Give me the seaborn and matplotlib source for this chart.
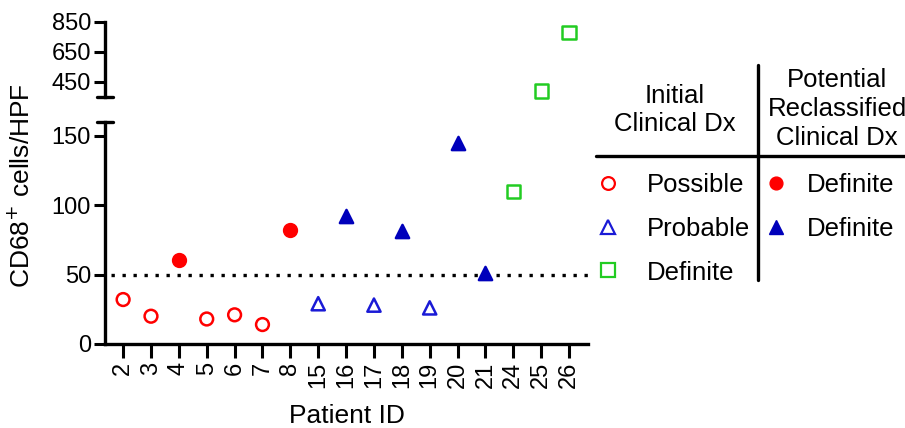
import matplotlib
matplotlib.use("Agg")
import matplotlib.pyplot as plt
from matplotlib.lines import Line2D
import seaborn as sns
import pandas as pd
import numpy as np

# ---- data ----
patient_ids = ["2", "3", "4", "5", "6", "7", "8", "15", "16", "17", "18", "19", "20", "21", "24", "25", "26"]
cd68_values = [32, 20, 60.5, 18, 21, 14, 82, 29, 92, 28, 81, 26, 144.5, 51, 110, 390, 782]
groups = ["Possible", "Possible", "Possible→Definite", "Possible", "Possible", "Possible",
          "Possible→Definite", "Probable", "Probable→Definite", "Probable", "Probable→Definite",
          "Probable", "Probable→Definite", "Probable→Definite", "Definite", "Definite", "Definite"]
threshold = 50
break_low, break_high = 160, 350

group_order = ["Possible", "Probable", "Definite", "Possible→Definite", "Probable→Definite"]
RED, BLUE, BLUE_OPEN, GREEN = "#FF0000", "#0000BB", "#1A1AD6", "#22CC22"
styles = {
    "Possible": dict(marker="o", fc="none", ec=RED, ms=9.2),
    "Probable": dict(marker="^", fc="none", ec=BLUE_OPEN, ms=9.5),
    "Definite": dict(marker="s", fc="none", ec=GREEN, ms=9.5),
    "Possible→Definite": dict(marker="o", fc=RED, ec=RED, ms=9.2),
    "Probable→Definite": dict(marker="^", fc=BLUE, ec=BLUE, ms=9.5),
}

df = pd.DataFrame({"pid": patient_ids, "value": cd68_values, "group": groups})
df["pos"] = np.arange(len(df))

sns.set_style("ticks")
plt.rcParams["font.family"] = ["Liberation Sans", "DejaVu Sans"]
for k in ("text.color", "axes.labelcolor", "xtick.color", "ytick.color", "axes.edgecolor"):
    plt.rcParams[k] = "black"

W, H = 905, 428
fig = plt.figure(figsize=(W / 100, H / 100), dpi=100)

def fx(px):
    return px / W

def fy(py):
    return 1 - py / H

ax_lo = fig.add_axes([fx(105), fy(344), fx(588) - fx(105), fy(121.7) - fy(344)])
ax_hi = fig.add_axes([fx(105), fy(97), fx(588) - fx(105), fy(22) - fy(97)])

for ax, sel in ((ax_lo, df["value"] <= break_low), (ax_hi, df["value"] >= break_high)):
    for g in group_order:
        sub = df[sel & (df["group"] == g)]
        if sub.empty:
            continue
        st = styles[g]
        sns.scatterplot(data=sub, x="pos", y="value", ax=ax, marker=st["marker"],
                        s=st["ms"] ** 2, facecolor=st["fc"], edgecolor=st["ec"],
                        linewidth=1.8, legend=False, clip_on=False, zorder=3)
    ax.set_xlim(-0.65, len(patient_ids) - 1 + 0.68)
    ax.set_xlabel("")
    ax.set_ylabel("")
    for side in ("top", "right"):
        ax.spines[side].set_visible(False)
    ax.spines["left"].set_linewidth(2.4)
    ax.spines["bottom"].set_linewidth(2.4)
    ax.tick_params(axis="both", width=2.2, length=8, labelsize=17, pad=2)

ax_lo.set_ylim(0, break_low)
ax_lo.set_yticks([0, 50, 100, 150])
ax_lo.set_xticks(df["pos"])
ax_lo.set_xticklabels(patient_ids, rotation=90)
ax_lo.tick_params(axis="x", length=10, pad=3)
ax_lo.set_xlabel("Patient ID", fontsize=19, labelpad=11)
ax_lo.axhline(threshold, xmin=0.012, xmax=1, color="black", lw=2.4,
              ls=(0, (1, 2.3)), zorder=2)

ax_hi.set_ylim(break_high, 850)
ax_hi.set_yticks([450, 650, 850])
ax_hi.spines["bottom"].set_visible(False)
ax_hi.set_xticks([])

# break caps
cap = 8 / (588 - 105)
ax_hi.plot([-cap, cap], [0, 0], transform=ax_hi.transAxes, color="black", lw=2.4, clip_on=False)
ax_lo.plot([-cap, cap], [1, 1], transform=ax_lo.transAxes, color="black", lw=2.4, clip_on=False)

fig.text(fx(22), fy(186), "CD68$^{+}$ cells/HPF", rotation=90, ha="center", va="center", fontsize=19)

# ---- legend table ----
fig.add_artist(Line2D([fx(758), fx(758)], [fy(65), fy(280)], color="black", lw=2.4))
fig.add_artist(Line2D([fx(596), fx(905)], [fy(156), fy(156)], color="black", lw=2.4))
fig.text(fx(675), fy(110), "Initial\nClinical Dx", ha="center", va="center", fontsize=18.5, linespacing=1.25)
fig.text(fx(837), fy(109), "Potential\nReclassified\nClinical Dx", ha="center", va="center", fontsize=18.5, linespacing=1.25)

rows_left = [("Possible", 183), ("Probable", 227), ("Definite", 270)]
for g, py in rows_left:
    st = styles[g]
    fig.add_artist(Line2D([fx(608)], [fy(py)], marker=st["marker"], markersize=st["ms"],
                          markerfacecolor=st["fc"], markeredgecolor=st["ec"], markeredgewidth=1.6, ls="none"))
    fig.text(fx(647), fy(py), g, ha="left", va="center_baseline", fontsize=18.5)

rows_right = [("Possible→Definite", 183), ("Probable→Definite", 227)]
for g, py in rows_right:
    st = styles[g]
    fig.add_artist(Line2D([fx(776)], [fy(py)], marker=st["marker"], markersize=st["ms"],
                          markerfacecolor=st["fc"], markeredgecolor=st["ec"], ls="none"))
    fig.text(fx(807), fy(py), "Definite", ha="left", va="center_baseline", fontsize=18.5)

fig.savefig("out.png", dpi=100)
